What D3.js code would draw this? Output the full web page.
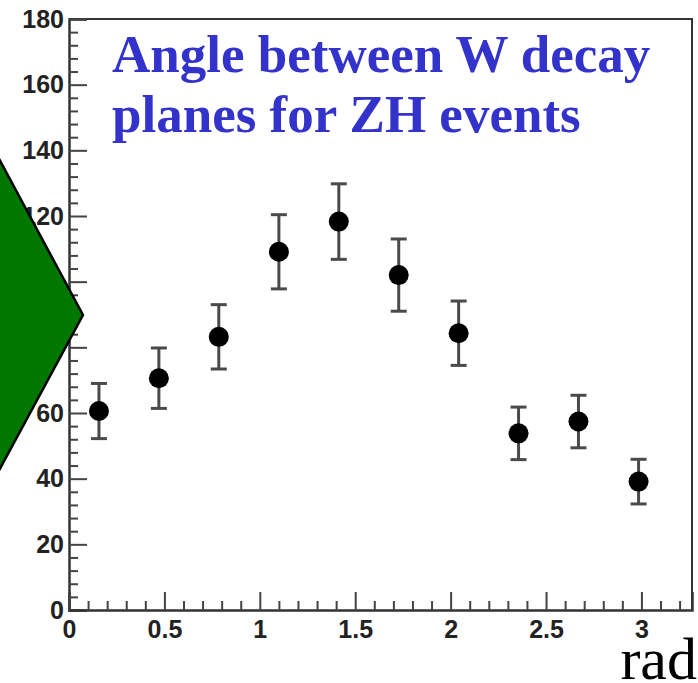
<!DOCTYPE html>
<html>
<head>
<meta charset="utf-8">
<script src="https://cdn.jsdelivr.net/npm/d3@7"></script>
<style>
  html, body { margin: 0; padding: 0; background: #fff; }
  svg { display: block; }
</style>
</head>
<body>
<div id="chart"></div>
<script>
// --- data -----------------------------------------------------
var binCenters = [0.157, 0.471, 0.785, 1.100, 1.414, 1.728, 2.042, 2.356, 2.670, 2.985]
var counts     = [60.6, 70.6, 83.2, 109.1, 118.3, 102.0, 84.3, 53.8, 57.4, 39.1]
var errors     = [8.4, 9.2, 9.8, 11.3, 11.5, 11.0, 9.8, 8.0, 8.0, 6.8]

var xTicks = [0, 0.5, 1, 1.5, 2, 2.5, 3]
var xMinor = [0.1, 0.2, 0.3, 0.4, 0.6, 0.7, 0.8, 0.9, 1.1, 1.2, 1.3, 1.4, 1.6, 1.7, 1.8, 1.9,
              2.1, 2.2, 2.3, 2.4, 2.6, 2.7, 2.8, 2.9, 3.1, 3.2]
var yTicks = [0, 20, 40, 60, 80, 100, 120, 140, 160, 180]
var yMinor = [4, 8, 12, 16, 24, 28, 32, 36, 44, 48, 52, 56, 64, 68, 72, 76, 84, 88, 92, 96,
              104, 108, 112, 116, 124, 128, 132, 136, 144, 148, 152, 156, 164, 168, 172, 176]
var titleLines = ["Angle between W decay", "planes for ZH events"]
var xUnit = "rad"

// --- layout ----------------------------------------------------
var width = 698,
    height = 683,
    plotLeft = 69,
    plotRight = 692,
    plotTop = 19,
    plotBottom = 610

var points = binCenters.map((x, i) => ({ x: x, y: counts[i], e: errors[i] }))

var x = d3.scaleLinear().domain([0, 3.265]).range([plotLeft, plotRight])
var y = d3.scaleLinear().domain([0, 180]).range([plotBottom, plotTop])

var svg = d3.select("#chart").append("svg")
  .attr("width", width)
  .attr("height", height)

svg.append("rect").attr("width", width).attr("height", height).attr("fill", "#fff")

// frame (top and right)
svg.append("path")
  .attr("d", `M${plotLeft},${plotTop}H${plotRight}V${plotBottom}`)
  .attr("fill", "none")
  .attr("stroke", "#333")
  .attr("stroke-width", 2)

// y axis, ticks pointing inwards
var yAxis = svg.append("g")
  .attr("transform", `translate(${plotLeft},0)`)
  .call(d3.axisLeft(y).tickValues(yTicks).tickSize(-18).tickPadding(5).tickFormat(d3.format("d")))
yAxis.append("g")
  .call(d3.axisLeft(y).tickValues(yMinor).tickSize(-9).tickFormat(""))

// x axis
var xAxis = svg.append("g")
  .attr("transform", `translate(0,${plotBottom})`)
  .call(d3.axisBottom(x).tickValues(xTicks).tickSize(-18).tickPadding(10).tickFormat(d => d))
xAxis.append("g")
  .call(d3.axisBottom(x).tickValues(xMinor).tickSize(-9).tickFormat(""))

svg.selectAll(".tick text")
  .attr("font-family", '"Liberation Sans", Arial, sans-serif')
  .attr("font-weight", "bold")
  .attr("font-size", 25)
  .attr("fill", "#222")

svg.selectAll(".domain").attr("stroke", "#333").attr("stroke-width", 2.5)
svg.selectAll(".tick line").attr("stroke", "#444").attr("stroke-width", 2)
svg.selectAll("g g .domain").remove()

// error bars
var bars = svg.append("g").attr("class", "errors")
  .selectAll("g")
  .data(points)
  .enter().append("g")
  .attr("stroke", "#4a4a4a")
  .attr("stroke-width", 3)

bars.append("line")
  .attr("x1", d => x(d.x)).attr("x2", d => x(d.x))
  .attr("y1", d => y(d.y + d.e)).attr("y2", d => y(d.y - d.e))
bars.append("line")
  .attr("x1", d => x(d.x) - 8).attr("x2", d => x(d.x) + 8)
  .attr("y1", d => y(d.y + d.e)).attr("y2", d => y(d.y + d.e))
bars.append("line")
  .attr("x1", d => x(d.x) - 8).attr("x2", d => x(d.x) + 8)
  .attr("y1", d => y(d.y - d.e)).attr("y2", d => y(d.y - d.e))

// markers
svg.append("g").attr("class", "markers")
  .selectAll("circle")
  .data(points)
  .enter().append("circle")
  .attr("cx", d => x(d.x))
  .attr("cy", d => y(d.y))
  .attr("r", 10)
  .attr("fill", "#000")

// title
svg.append("text")
  .attr("x", 112)
  .attr("y", 72)
  .style("font-family", '"Liberation Serif", "Times New Roman", serif')
  .style("font-weight", "bold")
  .style("font-size", "53px")
  .style("fill", "#3333cc")
  .selectAll("tspan")
  .data(titleLines)
  .enter().append("tspan")
  .attr("x", 112)
  .attr("dy", (d, i) => i ? 60 : 0)
  .text(d => d)

// unit label
svg.append("text")
  .attr("x", 697)
  .attr("y", 679)
  .attr("text-anchor", "end")
  .style("font-family", '"Liberation Serif", "Times New Roman", serif')
  .style("font-size", "60px")
  .style("fill", "#000")
  .text(xUnit)

// green arrow overlay on the left
svg.append("path")
  .attr("d", "M-10,142L83,315L-10,487Z")
  .attr("fill", "#007800")
  .attr("stroke", "#000")
  .attr("stroke-width", 2.5)
</script>
</body>
</html>
